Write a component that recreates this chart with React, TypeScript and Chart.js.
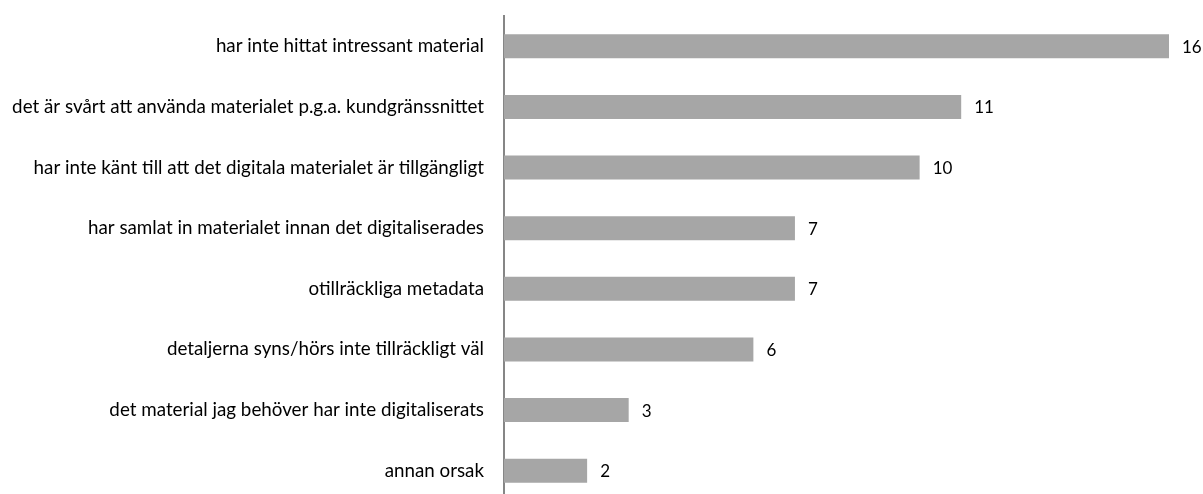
import React, { useEffect, useRef } from "react";
import { Chart, registerables } from "chart.js";

Chart.register(...registerables);

const categories = [
  "har inte hittat intressant material",
  "det är svårt att använda materialet p.g.a. kundgränssnittet",
  "har inte känt till att det digitala materialet är tillgängligt",
  "har samlat in materialet innan det digitaliserades",
  "otillräckliga metadata",
  "detaljerna syns/hörs inte tillräckligt väl",
  "det material jag behöver har inte digitaliserats",
  "annan orsak",
];
const values = [16, 11, 10, 7, 7, 6, 3, 2];

const FONT = "Lato, 'Open Sans', sans-serif";

const valueLabels = {
  id: "valueLabels",
  afterDatasetsDraw(chart: any) {
    const ctx = chart.ctx;
    const meta = chart.getDatasetMeta(0);
    ctx.save();
    ctx.font = `17px ${FONT}`;
    ctx.fillStyle = "#000";
    ctx.textAlign = "left";
    ctx.textBaseline = "middle";
    meta.data.forEach((bar: any, i: number) => {
      ctx.fillText(String(values[i]), bar.x + 13, bar.y + 1);
    });
    ctx.restore();
  },
};

export default function App() {
  const ref = useRef<HTMLCanvasElement>(null);
  useEffect(() => {
    if (!ref.current) return;
    const chart = new Chart(ref.current, {
      type: "bar",
      data: {
        labels: categories,
        datasets: [
          {
            data: values,
            backgroundColor: "#A6A6A6",
            borderWidth: 0,
            barPercentage: 0.396,
            categoryPercentage: 1,
          },
        ],
      },
      options: {
        indexAxis: "y",
        animation: false,
        responsive: false,
        maintainAspectRatio: false,
        layout: { autoPadding: false, padding: { top: 16, bottom: 1, right: 34, left: 0 } },
        plugins: { legend: { display: false }, tooltip: { enabled: false } },
        scales: {
          x: { display: false, min: 0, max: 16 },
          y: {
            afterFit(scale: any) {
              scale.width = 504;
              scale.paddingTop = 0;
              scale.paddingBottom = 0;
            },
            grid: { display: false, drawTicks: false },
            border: { display: true, color: "#868686", width: 2 },
            ticks: {
              padding: 20,
              color: "#000",
              font: { family: FONT, size: 18.8 },
            },
          },
        },
      },
      plugins: [valueLabels],
    });
    return () => chart.destroy();
  }, []);
  return (
    <div style={{ position: "fixed", left: 0, top: 0, width: 1203, height: 502, background: "#fff" }}>
      <canvas ref={ref} width={1203} height={502} />
    </div>
  );
}
